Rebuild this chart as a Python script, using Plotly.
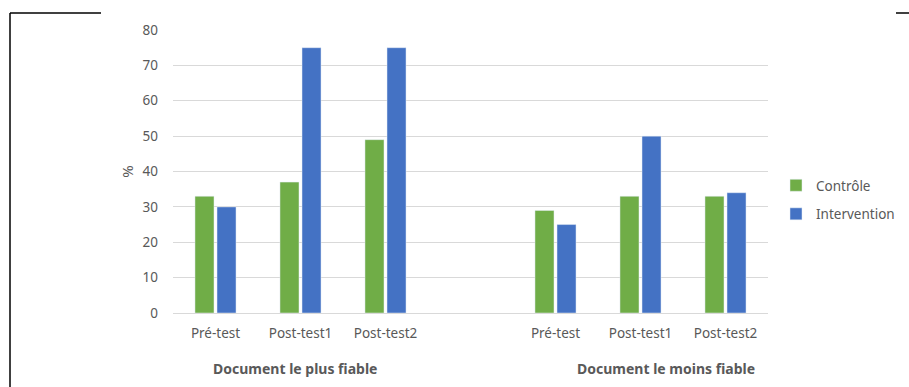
import plotly.graph_objects as go

# ---- data ----
categories = ["Pré-test", "Post-test1", "Post-test2", "", "Pré-test", "Post-test1", "Post-test2"]
controle = [33, 37, 49, None, 29, 33, 33]
intervention = [30, 75, 75, None, 25, 50, 34]
group_labels = ["Document le plus fiable", "Document le moins fiable"]
y_ticks = [0, 10, 20, 30, 40, 50, 60, 70, 80]

W, H = 909, 387
L, R, T, B = 173, 141, 30, 74
pw, ph = W - L - R, H - T - B

def px_x(p):
    return (p - L) / pw

def px_y(p):
    return (H - B - p) / ph

xs = list(range(len(categories)))
FONT = "Noto Sans"
GREY = "#595959"

fig = go.Figure()
fig.add_trace(go.Bar(x=xs, y=controle, name="Contrôle", marker_color="#70AD47",
                     legendgroup="a"))
fig.add_trace(go.Bar(x=xs, y=intervention, name="Intervention", marker_color="#4472C4",
                     legendgroup="b"))

fig.update_layout(
    width=W, height=H,
    margin=dict(l=L, r=R, t=T, b=B, autoexpand=False),
    paper_bgcolor="white", plot_bgcolor="white",
    barmode="group", bargap=0.482, bargroupgap=0.136,
    font=dict(family=FONT, size=13, color=GREY),
    xaxis=dict(tickmode="array", tickvals=xs, ticktext=categories,
               range=[-0.5, len(categories) - 0.5], showgrid=False,
               showline=False, zeroline=False, ticks="",
               tickfont=dict(size=13.5, color=GREY), ticklabelstandoff=10),
    yaxis=dict(range=[0, 80], tickvals=y_ticks, showgrid=True, gridcolor="#d9d9d9",
               gridwidth=1.2, zeroline=True, zerolinecolor="#d9d9d9", zerolinewidth=1.2,
               ticks="", tickfont=dict(size=13.5, color=GREY), ticklabelstandoff=14,
               title=dict(text="%", font=dict(size=15, color=GREY), standoff=5)),
    legend=dict(x=px_x(776), y=px_y(170), xanchor="left", yanchor="top",
                font=dict(size=13.5, color=GREY), tracegroupgap=8,
                bgcolor="rgba(0,0,0,0)", itemwidth=30),
    showlegend=True,
)

ann_x = [295, 666]
for lab, cx in zip(group_labels, ann_x):
    fig.add_annotation(text="<b>" + lab + "</b>", xref="paper", yref="paper",
                       x=px_x(cx), y=px_y(368), xanchor="center", yanchor="middle",
                       showarrow=False, font=dict(size=14, color=GREY))

line = dict(color="black", width=1.5)
fig.add_shape(type="line", xref="paper", yref="paper", x0=px_x(10), x1=px_x(101),
              y0=px_y(13), y1=px_y(13), line=line)
fig.add_shape(type="line", xref="paper", yref="paper", x0=px_x(10), x1=px_x(10),
              y0=px_y(13), y1=px_y(390), line=line)
fig.add_shape(type="line", xref="paper", yref="paper", x0=px_x(896), x1=px_x(909),
              y0=px_y(13), y1=px_y(13), line=line)

fig.write_html("out.html")
